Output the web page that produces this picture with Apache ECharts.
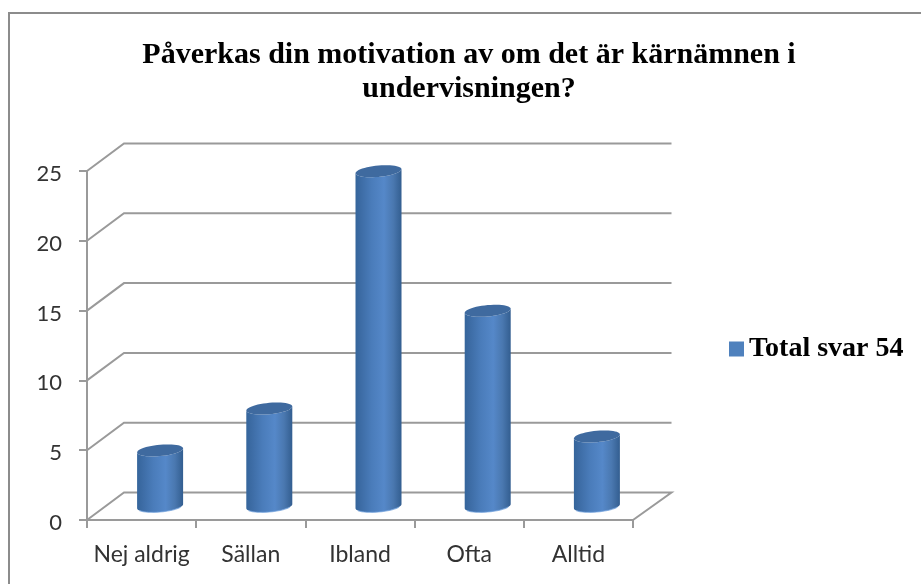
<!DOCTYPE html>
<html>
<head>
<meta charset="utf-8">
<style>html,body{margin:0;padding:0;background:#fff}#c{width:921px;height:584px}</style>
<script src="https://cdn.jsdelivr.net/npm/echarts@6/dist/echarts.min.js"></script>
</head>
<body>
<div id="c"></div>
<script>
var titleText = 'Påverkas din motivation av om det är kärnämnen i\nundervisningen?';
var seriesName = 'Total svar 54';
var categories = ['Nej aldrig', 'Sällan', 'Ibland', 'Ofta', 'Alltid'];
var values = [4, 7, 24, 14, 5];
var gridValues = [0, 5, 10, 15, 20, 25];

var DX = 37, DY = -27.5, DXR = 38.5;
var GREY = '#9a9a9a';

function ellipsePts(cx, cy, a, b, shear, t0, t1, n) {
  var pts = [];
  for (var i = 0; i <= n; i++) {
    var t = t0 + (t1 - t0) * i / n;
    pts.push([cx + a * Math.cos(t), cy - shear * Math.cos(t) + b * Math.sin(t)]);
  }
  return pts;
}

var chart = echarts.init(document.getElementById('c'), null, {renderer: 'canvas'});
chart.setOption({
  animation: false,
  backgroundColor: '#fff',
  title: {
    text: titleText,
    left: 464, top: 33, textAlign: 'center',
    textStyle: {fontFamily: '"Liberation Serif"', fontWeight: 'bold', fontSize: 30, lineHeight: 34, color: '#000'}
  },
  legend: {
    left: 724, top: 330, itemWidth: 15, itemHeight: 15, itemGap: 0,
    icon: 'rect',
    data: [{name: seriesName, itemStyle: {color: '#4f81bd'}}],
    textStyle: {fontFamily: '"Liberation Serif"', fontWeight: 'bold', fontSize: 28, color: '#000'}
  },
  grid: {left: 87, right: 288, top: 171, bottom: 64},
  xAxis: {
    type: 'category', data: categories,
    axisLine: {lineStyle: {color: GREY, width: 2}},
    axisTick: {show: true, length: 8, alignWithLabel: false, lineStyle: {color: GREY, width: 2}},
    axisLabel: {fontFamily: 'Lato', fontSize: 23, color: '#333', margin: 23, interval: 0, hideOverlap: false}
  },
  yAxis: {
    type: 'value', min: 0, max: 25, interval: 5,
    axisLine: {show: true, lineStyle: {color: GREY, width: 2}},
    axisTick: {show: true, length: 8, lineStyle: {color: GREY, width: 2}},
    splitLine: {show: false},
    axisLabel: {fontFamily: 'Lato', fontSize: 22, color: '#333', margin: 25, verticalAlign: 'top', lineHeight: 6}
  },
  series: [
    {
      name: 'walls', type: 'custom', silent: true, z: 1,
      data: gridValues,
      encode: {y: 0},
      renderItem: function (params, api) {
        var cs = params.coordSys, v = api.value(0);
        var y = api.coord([0, v])[1];
        var x0 = cs.x, x1 = cs.x + cs.width;
        var pts = [[x0, y], [x0 + DX, y + DY], [x1 + DXR, y + DY]];
        if (v === 0) pts.push([x1, y]);
        return {type: 'polyline', shape: {points: pts}, style: {stroke: GREY, lineWidth: 2, fill: null}};
      }
    },
    {
      name: seriesName, type: 'custom', z: 3,
      itemStyle: {color: '#4f81bd'},
      data: values.map(function (v, i) { return [i, v]; }),
      encode: {x: 0, y: 1},
      renderItem: function (params, api) {
        var top = api.coord([api.value(0), api.value(1)]);
        var base = api.coord([api.value(0), 0]);
        var a = 23, b = 5.7, s = 2;
        var cx = top[0] + DX / 2, ct = top[1] + DY / 2, cb = base[1] + DY / 2;
        var body = [[cx - a, ct + s]]
          .concat(ellipsePts(cx, cb, a, b, s, Math.PI, 0, 24))
          .concat([[cx + a, ct - s]])
          .concat(ellipsePts(cx, ct, a, b, s, 0, Math.PI, 24));
        var rim = ellipsePts(cx, cb, a, b, s, Math.PI * 0.85, Math.PI * 0.15, 16);
        return {
          type: 'group',
          children: [
            {type: 'polygon', shape: {points: body}, style: {
              fill: new echarts.graphic.LinearGradient(0, 0, 1, 0, [
                {offset: 0, color: '#35659b'},
                {offset: 0.12, color: '#3d6ca5'},
                {offset: 0.35, color: '#4a7cba'},
                {offset: 0.62, color: '#5588c9'},
                {offset: 0.82, color: '#4a78b0'},
                {offset: 1, color: '#335e90'}
              ])
            }},
            {type: 'polyline', shape: {points: rim}, style: {stroke: '#6f9fdc', lineWidth: 1.2, fill: null, opacity: 0.7}},
            {type: 'polygon', shape: {points: ellipsePts(cx, ct, a, b, s, 0, Math.PI * 2, 48)}, style: {fill: '#3f6a9f'}}
          ]
        };
      }
    }
  ],
  graphic: [
    {type: 'polyline', silent: true, z: 10, shape: {points: [[9, 584], [9, 13], [921, 13]]}, style: {stroke: '#8c8c8c', lineWidth: 2, fill: null}}
  ]
});
</script>
</body>
</html>
